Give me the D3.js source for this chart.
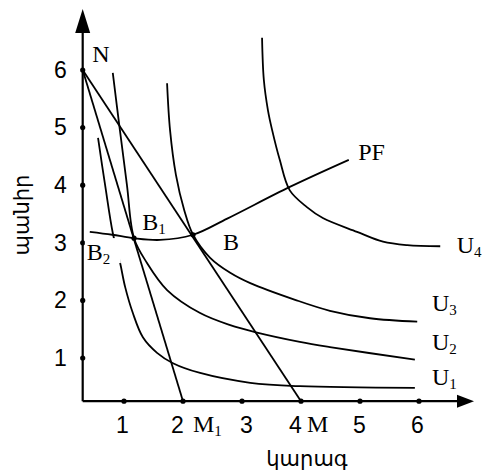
<!DOCTYPE html>
<html>
<head>
<meta charset="utf-8">
<script src="https://cdn.jsdelivr.net/npm/d3@7"></script>
<style>
  body { margin: 0; background: #fff; }
  svg { display: block; }
  .tick text { font-family: "Liberation Sans", Arial, sans-serif; font-size: 23px; fill: #000; }
  .lbl { font-family: "Liberation Serif", "Times New Roman", serif; font-size: 24px; fill: #000; }
  .arm { font-family: "DejaVu Sans", sans-serif; font-size: 21px; fill: #000; }
  .curve { fill: none; stroke: #000; stroke-width: 1.8px; }
</style>
</head>
<body>
<svg id="chart" width="484" height="473"></svg>
<script>
// axis ticks and where the axes cross
var xTicks = [1, 2, 3, 4, 5, 6];
var yTicks = [1, 2, 3, 4, 5, 6];
var axisX0 = 0.3, axisY0 = 0.25;

// budget lines  N -> M  and  N -> M1
var lineNM  = [[0.3, 6], [4, 0.25]];
var lineNM1 = [[0.3, 6], [2, 0.25]];

// price-consumption path
var pf = [[0.42, 3.19], [0.80, 3.14], [1.17, 3.08], [1.61, 3.05], [2.17, 3.14],
          [2.75, 3.42], [3.81, 3.97], [4.81, 4.44]];

// indifference curves
var u1 = [[0.56, 4.82], [0.68, 4.00], [0.81, 3.17], [0.93, 2.67], [1.02, 2.23],
          [1.15, 1.78], [1.32, 1.36], [1.56, 1.09], [1.83, 0.91], [2.29, 0.74],
          [3.14, 0.57], [3.98, 0.51], [5.93, 0.48]];
var u2 = [[0.81, 5.95], [0.93, 4.96], [1.05, 4.00], [1.17, 3.08], [1.39, 2.65],
          [1.73, 2.18], [2.29, 1.78], [2.80, 1.57], [3.22, 1.45], [3.98, 1.28],
          [4.49, 1.19], [5.93, 0.97]];
var u3 = [[1.73, 5.77], [1.78, 4.96], [1.88, 4.18], [2.02, 3.57], [2.17, 3.14],
          [2.46, 2.74], [2.80, 2.48], [3.14, 2.30], [3.90, 2.01], [4.49, 1.82],
          [5.17, 1.69], [5.97, 1.63]];
var u4 = [[3.34, 6.56], [3.37, 5.83], [3.44, 5.30], [3.51, 4.96], [3.64, 4.44],
          [3.81, 3.91], [4.10, 3.62], [4.37, 3.43], [4.95, 3.19], [5.39, 3.02],
          [5.80, 2.96], [6.36, 2.94]];

// tangency points B1, B
var tangents = [[1.17, 3.08], [2.17, 3.14]];

var svg = d3.select('#chart');

var x = d3.scaleLinear().domain([1, 6]).range([124, 419]);
var y = d3.scaleLinear().domain([1, 6]).range([358, 70]);

var ox = x(axisX0), oy = y(axisY0);

// tick labels
svg.append('g')
    .attr('transform', 'translate(' + ox + ',0)')
    .call(d3.axisLeft(y).tickValues(yTicks).tickSize(0).tickPadding(16).tickFormat(d3.format('d')))
    .call(function(g) { g.select('.domain').remove(); });

// the x labels sit a little off their dots in the original
var xLabelShift = { 1: -2, 2: -6, 3: 4, 4: -6, 5: -1, 6: -2 };
svg.append('g')
    .attr('transform', 'translate(0,' + oy + ')')
    .call(d3.axisBottom(x).tickValues(xTicks).tickSize(0).tickPadding(15).tickFormat(d3.format('d')))
    .call(function(g) {
        g.select('.domain').remove();
        g.selectAll('.tick text').attr('dx', function(d) { return xLabelShift[d]; });
    });

// axes with arrows
svg.append('line')
    .attr('x1', ox).attr('y1', oy).attr('x2', ox).attr('y2', 30)
    .style('stroke', '#000').style('stroke-width', 2.2);
svg.append('path')
    .attr('d', 'M' + ox + ',9 L' + (ox - 7.5) + ',33 L' + (ox + 7.5) + ',33 Z')
    .style('fill', '#000');
svg.append('line')
    .attr('x1', ox).attr('y1', oy).attr('x2', 460).attr('y2', oy)
    .style('stroke', '#000').style('stroke-width', 2.2);
svg.append('path')
    .attr('d', 'M474,' + oy + ' L457,' + (oy - 6.5) + ' L457,' + (oy + 6.5) + ' Z')
    .style('fill', '#000');

var line = d3.line()
    .x(function(d) { return x(d[0]); })
    .y(function(d) { return y(d[1]); });
var smooth = d3.line()
    .x(function(d) { return x(d[0]); })
    .y(function(d) { return y(d[1]); })
    .curve(d3.curveCatmullRom.alpha(0.5));

[lineNM, lineNM1].forEach(function(d) {
    svg.append('path').attr('class', 'curve').attr('d', line(d));
});
[pf, u1, u2, u3, u4].forEach(function(d) {
    svg.append('path').attr('class', 'curve').attr('d', smooth(d));
});

// dots on the axes and at B1, B
var dots = xTicks.map(function(v) { return [v, axisY0]; })
    .concat(yTicks.map(function(v) { return [axisX0, v]; }))
    .concat(tangents);
svg.selectAll('.dot')
    .data(dots)
    .enter().append('circle')
    .attr('class', 'dot')
    .attr('cx', function(d) { return x(d[0]); })
    .attr('cy', function(d) { return y(d[1]); })
    .attr('r', 2.6)
    .style('fill', '#000');

// letters
function label(txt, sub, px, py, bg) {
    var g = svg.append('g');
    if (bg) {
        g.append('rect').attr('x', px - 2).attr('y', py - 22).attr('width', 36).attr('height', 25)
            .style('fill', '#fff');
    }
    var t = g.append('text').attr('class', 'lbl').attr('x', px).attr('y', py).text(txt);
    if (sub) {
        t.append('tspan').attr('dy', 4).style('font-size', '15px').text(sub);
    }
}
label('N', '', x(0.46), y(6.14));
label('B', '1', x(1.31), y(3.22));
label('B', '2', x(0.37), y(2.70), true);
label('B', '', x(2.68), y(2.88));
label('PF', '', x(4.97), y(4.44));
label('U', '4', x(6.64), y(2.82));
label('U', '3', x(6.22), y(1.82));
label('U', '2', x(6.22), y(1.14));
label('U', '1', x(6.22), y(0.53));
label('M', '1', x(2.17), oy + 31);
label('M', '', x(4.10), oy + 31);

// axis titles
svg.append('text')
    .attr('class', 'arm')
    .attr('x', 307).attr('y', 466)
    .style('text-anchor', 'middle')
    .text('կարագ');
svg.append('text')
    .attr('class', 'arm')
    .attr('transform', 'translate(29,215) rotate(-90)')
    .style('text-anchor', 'middle')
    .text('պանիր');
</script>
</body>
</html>
